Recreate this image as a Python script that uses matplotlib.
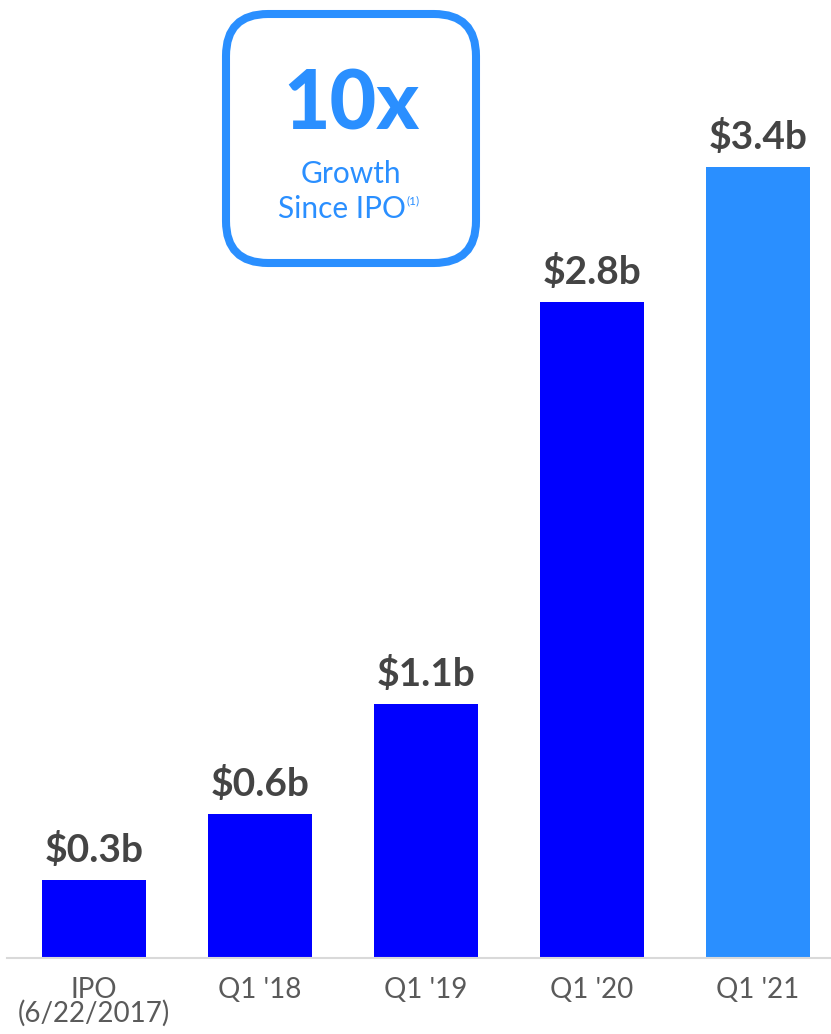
import matplotlib
matplotlib.use("Agg")
import matplotlib.pyplot as plt
from matplotlib.patches import FancyBboxPatch
from matplotlib.transforms import IdentityTransform

# data
categories = ["IPO\n(6/22/2017)", "Q1 '18", "Q1 '19", "Q1 '20", "Q1 '21"]
values = [0.335, 0.62, 1.09, 2.82, 3.40]
labels = ["$0.3b", "$0.6b", "$1.1b", "$2.8b", "$3.4b"]
colors = ["#0000FF", "#0000FF", "#0000FF", "#0000FF", "#2A8FFF"]

W, H = 831, 1034
plt.rcParams["font.family"] = ["Lato", "DejaVu Sans"]

fig = plt.figure(figsize=(W / 100, H / 100), dpi=100)
ax = fig.add_axes([7 / W, 76 / H, 1 - 7 / W, 1 - 76 / H])
ax.patch.set_visible(False)

x = range(len(categories))
bars = ax.bar(x, values, width=0.627, color=colors)
ax.set_xlim(-0.524, 4.44)
ax.set_ylim(0, 958 / 232.6)

for bar, lab in zip(bars, labels):
    ax.annotate(lab.replace("$", r"\$"), (bar.get_x() + bar.get_width() / 2, bar.get_height()),
                xytext=(0, 13), textcoords="offset points", ha="center", va="baseline",
                fontsize=28, fontweight="bold", color="#444444")

ax.set_xticks(list(x))
ax.set_xticklabels(categories, fontsize=20, fontweight="normal", color="#5a5a5a", linespacing=0.85)
ax.tick_params(axis="x", length=0, pad=14)
ax.set_yticks([])
for s in ["top", "right", "left"]:
    ax.spines[s].set_visible(False)
ax.spines["bottom"].set_color("#d9d9d9")
ax.spines["bottom"].set_linewidth(1.5)

# callout box
blue = "#2A8FFF"
box = FancyBboxPatch((226, H - 263), 250, 249, boxstyle="round,pad=0,rounding_size=42",
                     transform=IdentityTransform(), facecolor="none", edgecolor=blue,
                     linewidth=5.8)
fig.patches.append(box)
fig.text(351 / W, 1 - 130 / H, "10x", ha="center", va="baseline", fontsize=58,
         fontweight="black", color=blue)
fig.text(351 / W, 1 - 183 / H, "Growth", ha="center", va="baseline", fontsize=21.5,
         fontweight="normal", color=blue)
since = fig.text(342 / W, 1 - 218 / H, "Since IPO", ha="center", va="baseline", fontsize=21.5,
                 fontweight="normal", color=blue)
ax.annotate("(1)", xy=(1, 1), xycoords=since, xytext=(0.5, -0.5),
            textcoords="offset points", ha="left", va="top",
            fontsize=8.5, color=blue, annotation_clip=False)

fig.savefig("out.png", dpi=100)
